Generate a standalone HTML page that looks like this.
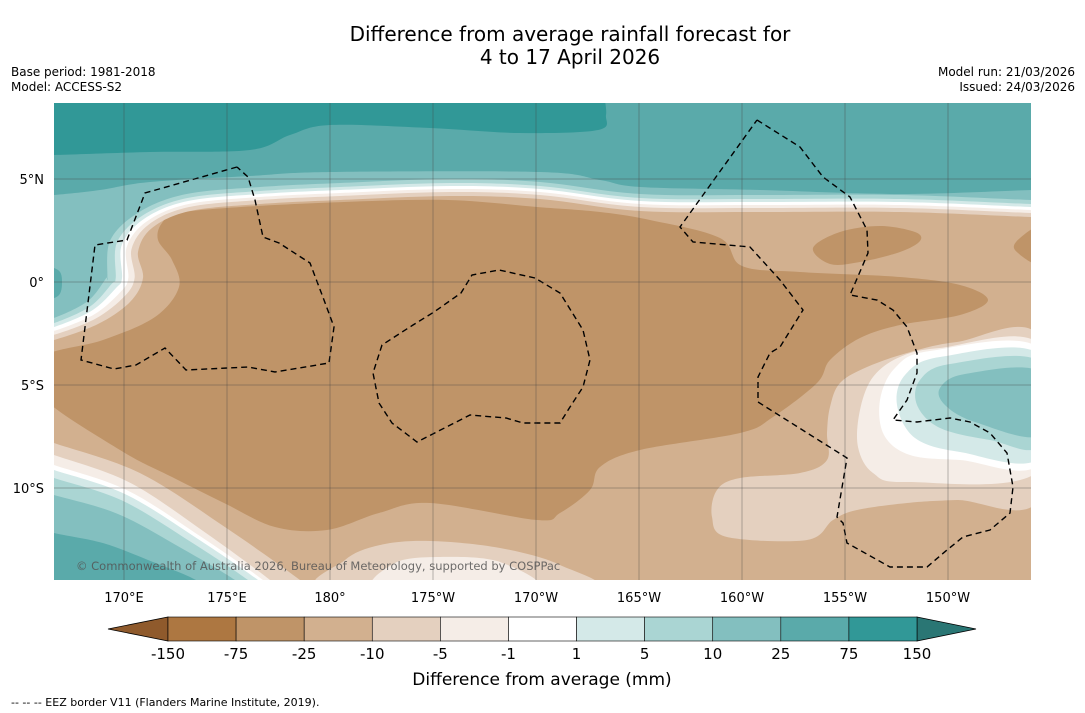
<!DOCTYPE html>
<html><head><meta charset="utf-8">
<style>
html,body{margin:0;padding:0;background:#fff;}
body{width:1085px;height:713px;overflow:hidden;font-family:"DejaVu Sans","Liberation Sans",sans-serif;}
svg{display:block}
</style></head>
<body>
<svg id="chart" width="1085" height="713" viewBox="0 0 1085 713" xmlns="http://www.w3.org/2000/svg">
  <text x="570" y="41" text-anchor="middle" font-size="20" fill="#000">Difference from average rainfall forecast for</text>
  <text x="570" y="64" text-anchor="middle" font-size="20" fill="#000">4 to 17 April 2026</text>
  <text x="11" y="76" font-size="12" fill="#000">Base period: 1981-2018</text>
  <text x="11" y="91" font-size="12" fill="#000">Model: ACCESS-S2</text>
  <text x="1075" y="76" text-anchor="end" font-size="12" fill="#000">Model run: 21/03/2026</text>
  <text x="1075" y="91" text-anchor="end" font-size="12" fill="#000">Issued: 24/03/2026</text>
  <defs><clipPath id="mapclip"><rect x="54" y="103" width="977" height="477"/></clipPath></defs>
  <g id="map" clip-path="url(#mapclip)"></g>
  <g id="grid"></g>
  <g id="axes"></g>
  <g id="cbar"></g>
  <text x="542" y="685" text-anchor="middle" font-size="17" fill="#000">Difference from average (mm)</text>
  <text x="11" y="706" font-size="11" fill="#000">--  --  -- EEZ border V11 (Flanders Marine Institute, 2019).</text>
</svg>
<script>
// ---- data arrays ----
const levelLabels = ["-150","-75","-25","-10","-5","-1","1","5","10","25","75","150"];
const binColors = ["#ad7741","#bf9468","#d2b08f","#e4d0bf","#f5ede7","#ffffff","#d4e9e8","#aad5d3","#83bfbf","#5aaaaa","#319897"];
const extendColors = ["#8f5a2c","#2a7674"];
const lonTicks = [170,175,180,-175,-170,-165,-160,-155,-150];
const lonLabels = ["170°E","175°E","180°","175°W","170°W","165°W","160°W","155°W","150°W"];
const latTicks = [5,0,-5,-10];
const latLabels = ["5°N","0°","5°S","10°S"];

const NS="http://www.w3.org/2000/svg";
function mk(tag,attrs,parent){const e=document.createElementNS(NS,tag);for(const k in attrs)e.setAttribute(k,attrs[k]);parent.appendChild(e);return e;}
// axis functions
function xLon(lon){const l=lon<0?lon+360:lon;return 124+(l-170)*20.6;}
function yLat(lat){return 282-lat*20.6;}

function smoothOpen(p){let d="";for(let i=0;i<p.length-1;i++){const p0=p[Math.max(i-1,0)],p1=p[i],p2=p[i+1],p3=p[Math.min(i+2,p.length-1)];
 const c1=[p1[0]+(p2[0]-p0[0])/6,p1[1]+(p2[1]-p0[1])/6],c2=[p2[0]-(p3[0]-p1[0])/6,p2[1]-(p3[1]-p1[1])/6];
 d+=` C${c1[0].toFixed(1)},${c1[1].toFixed(1)} ${c2[0].toFixed(1)},${c2[1].toFixed(1)} ${p2[0].toFixed(1)},${p2[1].toFixed(1)}`;}return d;}
function smoothClosed(p){const n=p.length;let d=`M${p[0][0]},${p[0][1]}`;for(let i=0;i<n;i++){const p0=p[(i-1+n)%n],p1=p[i],p2=p[(i+1)%n],p3=p[(i+2)%n];
 const c1=[p1[0]+(p2[0]-p0[0])/6,p1[1]+(p2[1]-p0[1])/6],c2=[p2[0]-(p3[0]-p1[0])/6,p2[1]-(p3[1]-p1[1])/6];
 d+=` C${c1[0].toFixed(1)},${c1[1].toFixed(1)} ${c2[0].toFixed(1)},${c2[1].toFixed(1)} ${p2[0].toFixed(1)},${p2[1].toFixed(1)}`;}return d+"Z";}

const map=document.getElementById('map');
function fillPath(d,c,name){const e=mk('path',{d:d,fill:c},map);return e;}

// background
const bg=mk('rect',{x:54,y:103,width:977,height:477,fill:binColors[2]},map);



// dry core
fillPath(smoothClosed([[40,358],[103,340],[155,317],[179,287],[172,260],[158,240],[162,223],[179,213],[241,207],[344,202],[448,200],[537,207],[600,212],[650,220],[720,238],[742,266],[800,272],[900,277],[960,285],[988,300],[960,315],[900,325],[860,338],[830,360],[817,383],[773,417],[740,433],[640,450],[600,467],[590,490],[560,513],[537,520],[430,503],[379,513],[327,530],[275,527],[224,503],[172,477],[120,450],[40,395]]),binColors[1],'dry-core-region');
fillPath(smoothClosed([[813,248],[840,232],[880,226],[915,232],[920,241],[900,252],[860,262],[830,264]]),binColors[1],'dry-blob-east');
fillPath(smoothClosed([[1040,228],[1020,238],[1015,250],[1040,264]]),binColors[1],'dry-blob-edge');

// bottom centre light
fillPath(smoothClosed([[330,590],[345,560],[380,545],[430,541],[500,548],[560,565],[585,590]]),binColors[3],'bottom-light-region');
fillPath(smoothClosed([[380,590],[395,563],[440,557],[500,562],[535,590]]),binColors[4],'bottom-lighter-region');

// south-east wet system
const se=[
 [[1040,338],[957,342],[907,353],[867,367],[840,383],[830,407],[827,433],[827,460],[800,473],[740,478],[717,490],[712,517],[727,537],[807,540],[833,520],[857,510],[907,503],[957,500],[1040,498]],
 [[1040,345],[940,348],[900,357],[873,377],[860,410],[858,447],[873,473],[907,482],[1040,470]],
 [[1040,349],[930,351],[895,368],[880,400],[884,435],[910,455],[960,460],[1040,463]],
 [[1040,355],[940,357],[905,375],[897,405],[915,438],[960,452],[1040,457]],
 [[1040,362],[950,364],[920,380],[917,405],[940,428],[990,440],[1040,445]],
 [[1040,372],[965,374],[940,388],[945,405],[975,422],[1040,435]]
];
se.forEach((p,i)=>fillPath(smoothClosed(p),binColors[3+i],'southeast-band-'+i));

// south-west wet bands
const swStart=[443,455,465,470,478,495,533];
const swEnd=[300,270,263,258,248,235,196];
swStart.forEach((y0,i)=>{const x1=swEnd[i];
 const pts=[[40,y0-5],[54,y0],[54+(x1-54)*0.35,y0+(580-y0)*0.22],[54+(x1-54)*0.7,y0+(580-y0)*0.62],[x1,580],[x1+10,592]];
 fillPath(`M40,592 L40,${y0-5}`+smoothOpen(pts)+" Z",binColors[3+i],'southwest-band-'+i);});

// north wet bands
const base=[[54,340,0,-1,1.3],[98,324,-.4,-.9,1.5],[130,302,-.7,-.7,2],[143,278,-1,0,2.1],[138,252,-.9,-.4,1.8],[152,228,-.6,-.8,1.2],[190,211,-.2,-1,1],[260,204,0,-1,1],[340,200,0,-1,1],[450,196,0,-1,1],[540,199,0,-1,1],[640,211,0,-1,1],[760,212,0,-1,1],[900,212,0,-1,1],[1031,217,0,-1,1]];
const nOff=[0,4,7,10,13,17];
nOff.forEach((d,i)=>{const pts=base.map(b=>[b[0]+b[2]*d*b[4],b[1]+b[3]*d*b[4]]);
 pts.unshift([40,pts[0][1]]);pts.push([1045,pts[pts.length-1][1]]);
 fillPath(`M40,95 L40,${pts[0][1]}`+smoothOpen(pts)+" L1045,95 Z",binColors[3+i],'north-band-'+i);});
fillPath("M40,95 L40,195"+smoothOpen([[40,195],[54,195],[100,190],[150,182],[250,176],[330,172],[540,172],[600,180],[640,187],[760,190],[900,194],[1031,190],[1045,190]])+" L1045,95 Z",binColors[9],'north-band-25');
fillPath(smoothClosed([[40,268],[58,270],[62,282],[58,296],[40,298]]),binColors[9],'west-lobe-core');
fillPath("M40,95 L40,155"+smoothOpen([[40,155],[54,155],[150,152],[250,150],[290,135],[330,125],[430,128],[520,133],[598,130],[606,115],[604,95]])+" Z",binColors[10],'north-band-75');

// copyright
const cp=mk('text',{x:76,y:570,'font-size':11.5,fill:'#555','fill-opacity':0.85},map);cp.textContent="© Commonwealth of Australia 2026, Bureau of Meteorology, supported by COSPPac";



// EEZ borders
const eezs=[
 [[237,167],[145,193],[127,240],[95,245],[81,360],[114,369],[136,365],[165,348],[186,370],[248,367],[275,372],[329,363],[334,327],[324,300],[310,263],[279,243],[263,237],[255,200],[248,177],[237,167]],
 [[535,278],[499,270],[472,275],[461,293],[434,312],[413,325],[382,345],[373,373],[379,403],[392,423],[417,442],[470,415],[506,418],[523,423],[560,423],[570,407],[583,387],[590,360],[583,330],[560,293],[535,278]],
 [[757,120],[800,147],[823,177],[850,197],[867,230],[868,253],[850,295],[877,300],[893,310],[907,327],[917,353],[917,373],[907,400],[893,420],[917,422],[950,418],[970,422],[990,433],[1007,453],[1013,487],[1010,513],[990,530],[963,537],[947,550],[927,567],[890,567],[847,543],[843,523],[837,517],[847,458],[758,402],[758,377],[770,353],[780,347],[803,310],[780,280],[750,247],[693,242],[680,227],[757,120]]
];
eezs.forEach((p,i)=>{const e=mk('polyline',{points:p.map(q=>q.join(',')).join(' '),fill:'none',stroke:'#000','stroke-width':1.4,'stroke-dasharray':'6,4'},map);
 
 });

// graticule
const grid=document.getElementById('grid');const axes=document.getElementById('axes');
lonTicks.forEach((lon,i)=>{const x=xLon(lon);
 const l=mk('line',{x1:x,y1:103,x2:x,y2:580,stroke:'#444','stroke-width':0.5,'stroke-opacity':0.75},grid);
 
 
 const t=mk('text',{x:x,y:602,'text-anchor':'middle','font-size':13,fill:'#000'},axes);t.textContent=lonLabels[i];
 
 });
latTicks.forEach((lat,i)=>{const y=yLat(lat);
 const l=mk('line',{x1:54,y1:y,x2:1031,y2:y,stroke:'#444','stroke-width':0.5,'stroke-opacity':0.75},grid);
 
 
 const t=mk('text',{x:44,y:y+5,'text-anchor':'end','font-size':13,fill:'#000'},axes);t.textContent=latLabels[i];
 
 });

// colorbar
const cb=document.getElementById('cbar');
const cx0=168,cx1=917,cy0=617,cy1=641,bw=(cx1-cx0)/binColors.length;
const la=mk('polygon',{points:`108,629 ${cx0},${cy0} ${cx0},${cy1}`,fill:extendColors[0],stroke:'#000','stroke-width':0.8},cb);


const ra=mk('polygon',{points:`${cx1},${cy0} 976,629 ${cx1},${cy1}`,fill:extendColors[1],stroke:'#000','stroke-width':0.8},cb);


binColors.forEach((c,i)=>{const r=mk('rect',{x:cx0+i*bw,y:cy0,width:bw,height:cy1-cy0,fill:c,stroke:'#000','stroke-width':0.6},cb);
 
 });
levelLabels.forEach((s,i)=>{const t=mk('text',{x:cx0+i*bw,y:659,'text-anchor':'middle','font-size':15,fill:'#000'},cb);t.textContent=s;
 
 });
</script>
</body></html>
